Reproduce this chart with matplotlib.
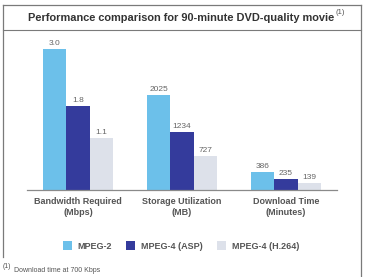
import matplotlib.pyplot as plt
import numpy as np
from matplotlib.lines import Line2D

plt.rcParams['font.family'] = ['Liberation Sans', 'DejaVu Sans']

categories = ["Bandwidth Required\n(Mbps)", "Storage Utilization\n(MB)", "Download Time\n(Minutes)"]
codecs = ["MPEG-2", "MPEG-4 (ASP)", "MPEG-4 (H.264)"]
colors = ["#6cc0ea", "#343b9c", "#dde1ea"]

# values as printed on the chart, one list per codec
# (bandwidth, storage, download time)
mpeg2 = [3.0, 2025, 386]
mpeg4_asp = [1.8, 1234, 235]
mpeg4_h264 = [1.1, 727, 139]
value_labels = [["3.0", "2025", "386"], ["1.8", "1234", "235"], ["1.1", "727", "139"]]

# the original chart draws bandwidth in kbps so it sits on the same scale
unit_factor = np.array([1000, 1, 1])

W, H = 365, 277
fig = plt.figure(figsize=(W / 100, H / 100), dpi=100)

# axes placed in pixel terms: baseline at y=190, x from 27 to 337
ax = fig.add_axes([27 / W, 1 - 190 / H, 310 / W, 150 / H])

x = np.arange(len(categories))
width = 0.225
series = [mpeg2, mpeg4_asp, mpeg4_h264]
bars = []
for i, (vals, col) in enumerate(zip(series, colors)):
    b = ax.bar(x + (i - 1) * width, np.array(vals) * unit_factor, width,
               color=col, label=codecs[i], edgecolor="none")
    ax.bar_label(b, labels=value_labels[i], padding=1.5, fontsize=6, color="#666666")
    bars.append(b)

ax.set_xlim(-0.49, 2.49)
ax.set_ylim(0, 3200)
ax.set_yticks([])
ax.set_xticks(x)
ax.set_xticklabels(categories, fontsize=6.5, fontweight="bold", color="#555555", linespacing=1.35)
ax.tick_params(axis="x", length=0, pad=5)
for s in ["top", "left", "right"]:
    ax.spines[s].set_visible(False)
ax.spines["bottom"].set_color("#8a8a8a")
ax.spines["bottom"].set_linewidth(0.9)

# title and footnote marker
fig.text(28 / W, 1 - 18 / H, "Performance comparison for 90-minute DVD-quality movie",
         fontsize=7.9, fontweight="bold", color="#333333", va="center", ha="left")
fig.text(336 / W, 1 - 13 / H, "(1)", fontsize=5.5, color="#555555", va="center", ha="left")

# outer frame
frame_col = "#7a7a7a"
fig.add_artist(Line2D([3 / W, 361 / W], [1 - 5 / H, 1 - 5 / H], color=frame_col, lw=0.9))
fig.add_artist(Line2D([3 / W, 361 / W], [1 - 30 / H, 1 - 30 / H], color=frame_col, lw=0.8))
fig.add_artist(Line2D([3 / W, 3 / W], [1 - 5 / H, 1 - 257 / H], color=frame_col, lw=0.9))
fig.add_artist(Line2D([361 / W, 361 / W], [1 - 5 / H, 0], color=frame_col, lw=0.9))

fig.legend(handles=bars, labels=codecs, loc="center", bbox_to_anchor=(181 / W, 1 - 246 / H),
           ncol=3, frameon=False, handlelength=1.0, handleheight=1.0, handletextpad=0.6,
           columnspacing=1.6, prop={"size": 6.5, "weight": "bold"}, labelcolor="#555555")

# footnote
fig.text(3 / W, 1 - 266 / H, "(1)", fontsize=5, color="#555555", va="center", ha="left")
fig.text(14 / W, 1 - 270 / H, "Download time at 700 Kbps", fontsize=5, color="#555555",
         va="center", ha="left")

fig.savefig("out.png", dpi=100)
